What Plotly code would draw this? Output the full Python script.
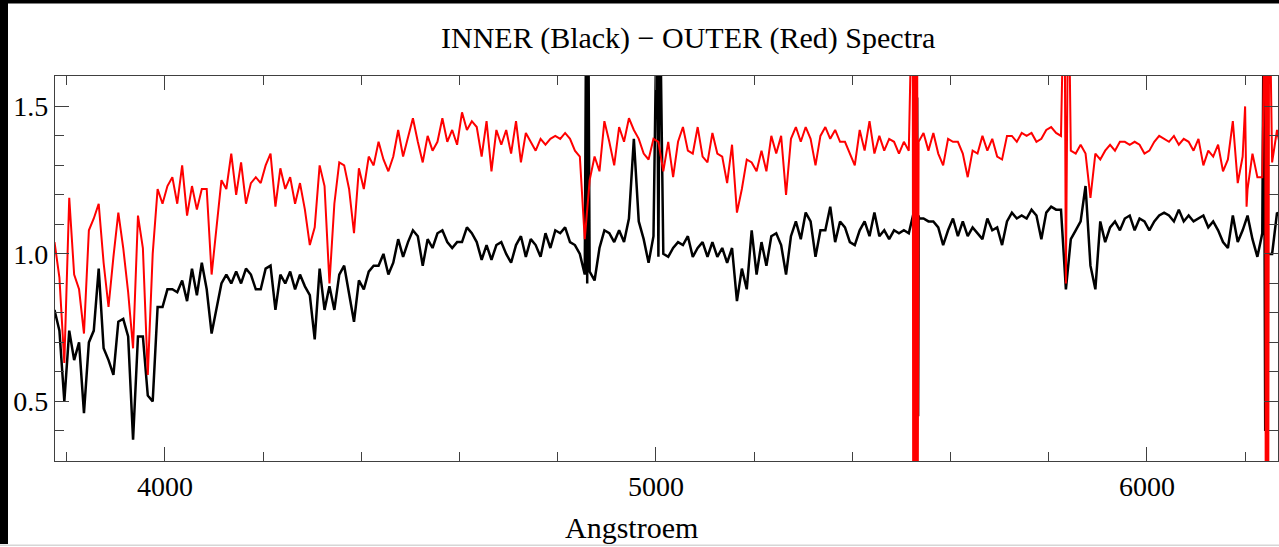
import plotly.graph_objects as go

# Wavelength grid (Angstroem) shared by both spectra
wavelength = list(range(3775, 6276, 10))

# Normalised flux of the inner aperture (black)
inner_flux = [
    0.81, 0.74, 0.50, 0.74, 0.64, 0.70, 0.46, 0.70, 0.74, 0.95,
    0.68, 0.64, 0.59, 0.77, 0.78, 0.72, 0.37, 0.72, 0.72, 0.52,
    0.50, 0.82, 0.82, 0.88, 0.88, 0.87, 0.91, 0.84, 0.95, 0.86,
    0.97, 0.88, 0.73, 0.81, 0.90, 0.93, 0.90, 0.94, 0.90, 0.95,
    0.93, 0.88, 0.88, 0.95, 0.96, 0.81, 0.93, 0.90, 0.94, 0.88,
    0.93, 0.89, 0.86, 0.71, 0.95, 0.81, 0.89, 0.81, 0.93, 0.96,
    0.86, 0.77, 0.91, 0.88, 0.94, 0.96, 0.96, 1.00, 0.93, 0.97,
    1.05, 0.99, 1.04, 1.08, 1.06, 0.96, 1.05, 1.02, 1.07, 1.08,
    1.04, 1.02, 1.04, 1.04, 1.09, 1.07, 1.04, 0.98, 1.03, 0.98,
    1.03, 1.04, 1.00, 0.97, 1.03, 1.06, 0.99, 1.05, 1.03, 0.99,
    1.07, 1.02, 1.08, 1.07, 1.09, 1.04, 1.03, 1.00, 0.93, 0.94,
    0.91, 1.02, 1.08, 1.07, 1.04, 1.08, 1.04, 1.12, 1.39, 1.11,
    1.05, 0.97, 1.06, 0.99, 1.00, 0.99, 1.02, 1.04, 1.03, 1.06,
    0.99, 1.02, 1.04, 0.99, 1.04, 0.99, 1.02, 0.97, 1.02, 0.84,
    0.95, 0.88, 1.08, 0.93, 1.04, 0.96, 1.06, 1.07, 1.03, 0.93,
    1.06, 1.11, 1.05, 1.14, 1.11, 0.99, 1.08, 1.08, 1.16, 1.04,
    1.11, 1.09, 1.04, 1.03, 1.08, 1.11, 1.06, 1.14, 1.06, 1.08,
    1.05, 1.08, 1.07, 1.08, 1.07, 1.14, 1.13, 1.12, 1.11, 1.11,
    1.09, 1.03, 1.08, 1.12, 1.06, 1.11, 1.06, 1.09, 1.07, 1.05,
    1.12, 1.08, 1.09, 1.03, 1.11, 1.14, 1.12, 1.13, 1.12, 1.15,
    1.13, 1.05, 1.14, 1.16, 1.15, 1.15, 0.88, 1.05, 1.08, 1.11,
    1.23, 0.96, 0.88, 1.11, 1.04, 1.09, 1.11, 1.08, 1.12, 1.13,
    1.08, 1.12, 1.11, 1.08, 1.11, 1.13, 1.14, 1.13, 1.11, 1.15,
    1.11, 1.13, 1.11, 1.12, 1.13, 1.09, 1.11, 1.08, 1.04, 1.02,
    1.13, 1.04, 1.08, 1.13, 1.05, 0.99, 1.07, 1.00, 1.00, 1.14,
    1.12,
]

# Normalised flux of the outer aperture (red)
outer_flux = [
    1.04, 0.92, 0.63, 1.19, 0.93, 0.88, 0.73, 1.08, 1.12, 1.17,
    0.97, 0.82, 0.99, 1.14, 1.02, 0.87, 0.68, 1.13, 1.02, 0.59,
    1.00, 1.22, 1.17, 1.23, 1.26, 1.17, 1.30, 1.13, 1.23, 1.15,
    1.22, 1.22, 0.93, 1.08, 1.25, 1.22, 1.34, 1.20, 1.31, 1.17,
    1.24, 1.26, 1.24, 1.30, 1.34, 1.16, 1.29, 1.22, 1.26, 1.17,
    1.24, 1.15, 1.03, 1.09, 1.30, 1.23, 0.90, 1.17, 1.31, 1.30,
    1.22, 1.07, 1.29, 1.22, 1.33, 1.30, 1.38, 1.32, 1.28, 1.33,
    1.42, 1.33, 1.40, 1.46, 1.38, 1.31, 1.40, 1.35, 1.38, 1.46,
    1.38, 1.42, 1.37, 1.48, 1.42, 1.45, 1.43, 1.33, 1.45, 1.28,
    1.42, 1.37, 1.42, 1.34, 1.45, 1.31, 1.41, 1.38, 1.35, 1.39,
    1.37, 1.39, 1.40, 1.39, 1.41, 1.39, 1.35, 1.33, 1.05, 1.25,
    1.33, 1.28, 1.45, 1.38, 1.30, 1.43, 1.38, 1.46, 1.42, 1.39,
    1.34, 1.32, 1.39, 1.38, 1.28, 1.38, 1.26, 1.38, 1.43, 1.35,
    1.34, 1.43, 1.33, 1.31, 1.41, 1.34, 1.33, 1.24, 1.37, 1.14,
    1.22, 1.32, 1.31, 1.28, 1.35, 1.28, 1.40, 1.34, 1.40, 1.20,
    1.39, 1.43, 1.38, 1.43, 1.39, 1.30, 1.40, 1.43, 1.39, 1.42,
    1.38, 1.38, 1.34, 1.30, 1.42, 1.35, 1.45, 1.34, 1.40, 1.35,
    1.39, 1.38, 1.34, 1.38, 1.35, 1.37, 1.38, 1.41, 1.35, 1.41,
    1.34, 1.30, 1.39, 1.38, 1.38, 1.34, 1.26, 1.35, 1.34, 1.40,
    1.35, 1.39, 1.33, 1.32, 1.40, 1.40, 1.38, 1.41, 1.40, 1.41,
    1.38, 1.39, 1.42, 1.43, 1.41, 1.40, 0.90, 1.35, 1.34, 1.37,
    1.34, 1.19, 1.34, 1.32, 1.35, 1.37, 1.35, 1.38, 1.38, 1.37,
    1.38, 1.37, 1.34, 1.35, 1.38, 1.40, 1.39, 1.38, 1.40, 1.37,
    1.39, 1.38, 1.35, 1.39, 1.30, 1.35, 1.33, 1.37, 1.28, 1.32,
    1.45, 1.24, 1.33, 1.22, 1.34, 1.26, 1.26, 0.00, 1.31, 1.42,
    1.33,
]

# Narrow emission / residual features sampled finer than the grid
inner_line_wave = [4858, 4860, 4862, 5002, 5008, 5532, 5534, 5536, 6238, 6241]
inner_line_flux = [1.90, 0.90, 1.90, 1.90, 1.90, 1.53, 0.45, 1.12, 1.90, 0.40]

outer_line_wave = [5523, 5524, 5526, 5527, 5529, 5530, 5532, 5533,
                   5832, 5840, 6200, 6203,
                   6241, 6242, 6244, 6246, 6247, 6249]
outer_line_flux = [2.00, 0.00, 2.00, 0.00, 2.00, 0.00, 2.00, 0.00,
                   2.00, 2.00, 1.50, 1.16,
                   2.00, 0.00, 2.00, 2.00, 0.00, 2.00]

title_text = "INNER (Black) \u2212 OUTER (Red) Spectra"
x_title = "Angstroem"


def merge(grid_w, grid_f, extra_w, extra_f):
    pts = sorted(zip(list(grid_w) + list(extra_w), list(grid_f) + list(extra_f)))
    return [p[0] for p in pts], [p[1] for p in pts]


inner_w, inner_f = merge(wavelength, inner_flux, inner_line_wave, inner_line_flux)
outer_w, outer_f = merge(wavelength, outer_flux, outer_line_wave, outer_line_flux)

W, H = 1279, 547
L, R, T, B = 55, 1278, 76, 461
AXIS_COLOR = "#404040"
FONT = "Liberation Serif"


def px(x):
    return (x - L) / (R - L)


def py(y):
    return (B - y) / (B - T)


fig = go.Figure()
fig.add_trace(go.Scatter(x=inner_w, y=inner_f, mode="lines",
                         line=dict(color="#000000", width=2.5), hoverinfo="skip"))
fig.add_trace(go.Scatter(x=outer_w, y=outer_f, mode="lines",
                         line=dict(color="#ff0000", width=2), hoverinfo="skip"))

axis_common = dict(
    showline=True, linecolor=AXIS_COLOR, linewidth=1.2, mirror="allticks",
    ticks="inside", ticklen=14, tickwidth=1.2, tickcolor=AXIS_COLOR,
    showgrid=False, zeroline=False,
    tickfont=dict(family=FONT, size=28, color="#000000"),
)

fig.update_xaxes(range=[3776, 6267], tickmode="linear", tick0=0, dtick=1000,
                 minor=dict(dtick=200, ticks="inside", ticklen=9,
                            tickwidth=1.2, tickcolor=AXIS_COLOR, showgrid=False),
                 **axis_common)
fig.update_yaxes(range=[0.298, 1.603], tickmode="linear", tick0=0, dtick=0.5,
                 tickformat=".1f",
                 minor=dict(dtick=0.1, ticks="inside", ticklen=9,
                            tickwidth=1.2, tickcolor=AXIS_COLOR, showgrid=False),
                 **axis_common)

fig.add_annotation(text=title_text, x=px(687.5), y=py(38), xref="paper", yref="paper",
                   xanchor="center", yanchor="middle", showarrow=False,
                   font=dict(family=FONT, size=30, color="#000000"))
fig.add_annotation(text=x_title, x=px(631.5), y=py(527), xref="paper", yref="paper",
                   xanchor="center", yanchor="middle", showarrow=False,
                   font=dict(family=FONT, size=30, color="#000000"))

# Dark frame along the top and left edges, thin light rule at the bottom
fig.add_shape(type="rect", xref="paper", yref="paper", x0=px(0), x1=px(W), y0=py(0), y1=py(3.5),
              fillcolor="#000000", line=dict(width=0), layer="above")
fig.add_shape(type="rect", xref="paper", yref="paper", x0=px(0), x1=px(8), y0=py(0), y1=py(544),
              fillcolor="#000000", line=dict(width=0), layer="above")
fig.add_shape(type="rect", xref="paper", yref="paper", x0=px(0), x1=px(W), y0=py(544.5), y1=py(546),
              fillcolor="#d6d6d6", line=dict(width=0), layer="above")

fig.update_layout(
    width=W, height=H,
    margin=dict(l=L, r=W - R, t=T, b=H - B, pad=0),
    paper_bgcolor="#ffffff", plot_bgcolor="#ffffff",
    showlegend=False,
)

fig.write_html("out.html", config={"displayModeBar": False})
